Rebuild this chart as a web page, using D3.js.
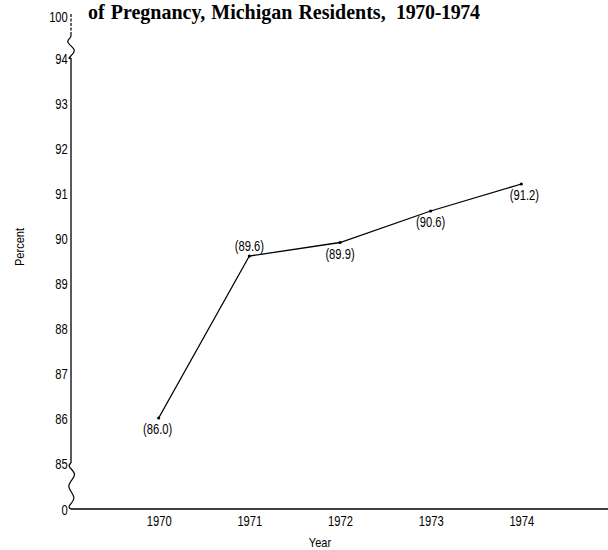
<!DOCTYPE html>
<html>
<head>
<meta charset="utf-8">
<script src="https://cdn.jsdelivr.net/npm/d3@7"></script>
<style>
  body { margin: 0; background: #fff; }
  text { fill: #000; }
  .cond { font-family: "Liberation Sans", Arial, sans-serif; }
</style>
</head>
<body>
<div id="chart"></div>
<script>
(function() {
  // Chart data.
  const years = [1970, 1971, 1972, 1973, 1974];
  const percent = [86.0, 89.6, 89.9, 90.6, 91.2];
  const labelSide = ['below', 'above', 'below', 'below', 'below'];
  const yTicks = [0, 85, 86, 87, 88, 89, 90, 91, 92, 93, 94, 100];

  const width = 608;
  const height = 550;

  // No condensed font installed, so squeeze the glyphs sideways.
  const squeeze = 0.8;

  const vis = d3.select('#chart')
    .append('svg')
    .attr('width', width)
    .attr('height', height);

  // Broken axis: 0 and 100 squeezed in at the ends.
  const y = d3.scaleLinear()
    .domain([0, 85, 94, 100])
    .range([509, 463, 58, 16]);

  const x = d3.scaleLinear()
    .domain([1969, 1975])
    .range([68, 612]);

  const axisX = 71;

  // Title (the upper line is cut off in the source).
  const title = vis.append('text')
    .attr('y', 19)
    .style('font-family', '"Liberation Serif", "Times New Roman", serif')
    .style('font-weight', 'bold')
    .style('font-size', '20px')
    .style('word-spacing', '1px');
  title.append('tspan')
    .attr('x', 88)
    .text('of Pregnancy, Michigan Residents,');
  title.append('tspan')
    .attr('x', 396)
    .attr('textLength', 84)
    .attr('lengthAdjust', 'spacing')
    .text('1970-1974');

  // Y axis: labels only, line drawn by hand below.
  const yAxis = d3.axisLeft(y)
    .tickValues(yTicks)
    .tickSize(0)
    .tickPadding(4)
    .tickFormat(d3.format('d'));

  vis.append('g')
    .attr('transform', `translate(${axisX}, 0)`)
    .call(yAxis)
    .call(g => g.select('.domain').remove())
    .call(g => g.selectAll('text')
      .attr('class', 'cond')
      .attr('font-family', null)
      .style('font-size', '14px')
      .attr('dy', '0.36em')
      .attr('transform', `scale(${squeeze}, 1)`));

  const lineGen = d3.line().curve(d3.curveBasis);

  // Dashed stub above the top break.
  vis.append('line')
    .attr('x1', axisX).attr('x2', axisX)
    .attr('y1', y(100) - 2).attr('y2', y(97.3))
    .style('stroke', '#000')
    .style('stroke-width', 1.2)
    .style('stroke-dasharray', '3,1.5');

  // Top squiggle from 97 down to 94.
  const y97 = y(97.3), y94 = y(94);
  const topStep = (y94 - y97) / 4;
  vis.append('path')
    .attr('d', lineGen([
      [axisX, y97],
      [axisX, y97 + topStep * 0.5],
      [axisX - 6, y97 + topStep * 1.2],
      [axisX + 6, y97 + topStep * 2.6],
      [axisX, y97 + topStep * 3.6],
      [axisX - 3, y94 + 1],
      [axisX, y94]
    ]))
    .style('fill', 'none')
    .style('stroke', '#000')
    .style('stroke-width', 1.2);

  // Solid main axis between 94 and 85.
  vis.append('line')
    .attr('x1', axisX).attr('x2', axisX)
    .attr('y1', y(94)).attr('y2', y(85))
    .style('stroke', '#000')
    .style('stroke-width', 1.3);

  // Bottom squiggle from 85 down to 0.
  const y85 = y(85), y0 = y(0);
  const botStep = (y0 - y85) / 8;
  vis.append('path')
    .attr('d', lineGen([
      [axisX, y85],
      [axisX - 4, y85 + botStep * 0.6],
      [axisX + 8, y85 + botStep * 2],
      [axisX - 7, y85 + botStep * 4],
      [axisX + 7, y85 + botStep * 6],
      [axisX - 4, y85 + botStep * 7.6],
      [axisX, y0]
    ]))
    .style('fill', 'none')
    .style('stroke', '#000')
    .style('stroke-width', 1.2);

  // X axis.
  const xAxis = d3.axisBottom(x)
    .tickValues(years)
    .tickSize(0)
    .tickPadding(7)
    .tickFormat(d3.format('d'));

  vis.append('g')
    .attr('transform', `translate(0, ${y(0)})`)
    .call(xAxis)
    .call(g => g.select('.domain').remove())
    .call(g => g.selectAll('text')
      .attr('class', 'cond')
      .attr('font-family', null)
      .style('font-size', '14px')
      .attr('transform', `scale(${squeeze}, 1)`));

  vis.append('line')
    .attr('x1', axisX).attr('x2', width)
    .attr('y1', y(0)).attr('y2', y(0))
    .style('stroke', '#000')
    .style('stroke-width', 1.3);

  // Axis titles.
  vis.append('text')
    .classed('cond', true)
    .attr('transform', `translate(320, 547) scale(${squeeze + 0.05}, 1)`)
    .style('text-anchor', 'middle')
    .style('font-size', '13px')
    .text('Year');

  vis.append('text')
    .classed('cond', true)
    .attr('transform', `translate(24, 247) rotate(-90) scale(${squeeze + 0.05}, 1)`)
    .style('text-anchor', 'middle')
    .style('font-size', '13px')
    .text('Percent');

  // The data line.
  const pts = years.map((yr, i) => ({ year: yr, value: percent[i], side: labelSide[i] }));

  const line = d3.line()
    .x(d => x(d.year))
    .y(d => y(d.value));

  vis.append('path')
    .datum(pts)
    .attr('d', line)
    .style('fill', 'none')
    .style('stroke', '#000')
    .style('stroke-width', 1.3);

  vis.selectAll('circle.pt')
    .data(pts)
    .enter()
    .append('circle')
    .classed('pt', true)
    .attr('cx', d => x(d.year))
    .attr('cy', d => y(d.value))
    .attr('r', 1.6)
    .style('fill', '#000');

  // Value labels in parentheses.
  vis.selectAll('text.val')
    .data(pts)
    .enter()
    .append('text')
    .attr('class', 'val cond')
    .attr('transform', d => {
      const lx = x(d.year) + (d.year === 1974 ? 3 : (d.year === 1970 ? -1 : 0));
      const ly = y(d.value) + (d.side === 'above' ? -5 : 16);
      return `translate(${lx}, ${ly}) scale(${squeeze}, 1)`;
    })
    .style('text-anchor', 'middle')
    .style('font-size', '14px')
    .text(d => `(${d.value.toFixed(1)})`);
})();
</script>
</body>
</html>
